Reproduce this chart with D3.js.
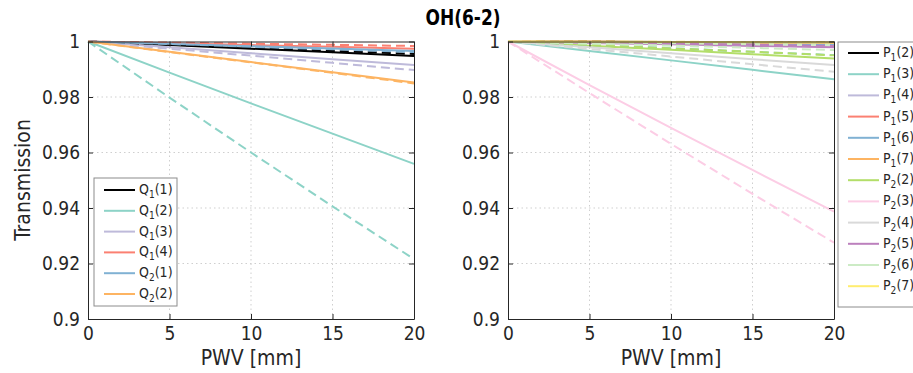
<!DOCTYPE html>
<html>
<head>
<meta charset="utf-8">
<script src="https://cdn.jsdelivr.net/npm/d3@7"></script>
<style>
  body { margin: 0; background: #fff; }
  text { font-family: "DejaVu Sans Condensed", "DejaVu Sans", sans-serif; font-stretch: condensed; fill: #262626; }
</style>
</head>
<body>
<div id="vis"></div>
<script>
// PWV sample points [mm]
const pwv = [0, 5, 10, 15, 20];
const xTicks = [0, 5, 10, 15, 20];
const yTicks = [0.9, 0.92, 0.94, 0.96, 0.98, 1];

// left panel: Q branch lines
const qNames = ["Q1(1)", "Q1(2)", "Q1(3)", "Q1(4)", "Q2(1)", "Q2(2)"];
const qSolid = [
  [1, 0.9987, 0.9974, 0.9961, 0.9948],
  [1, 0.9888, 0.9777, 0.9668, 0.9559],
  [1, 0.9979, 0.9958, 0.9936, 0.9915],
  [1, 0.9994, 0.9987, 0.9981, 0.9974],
  [1, 0.9992, 0.9983, 0.9975, 0.9966],
  [1, 0.9963, 0.9926, 0.9889, 0.9852]
];
const qDashed = [
  [1, 0.9989, 0.9978, 0.9966, 0.9955],
  [1, 0.9798, 0.9600, 0.9406, 0.9216],
  [1, 0.9974, 0.9949, 0.9923, 0.9897],
  [1, 0.9996, 0.9992, 0.9988, 0.9984],
  [1, 0.9991, 0.9981, 0.9972, 0.9962],
  [1, 0.9962, 0.9925, 0.9887, 0.9849]
];

// right panel: P branch lines
const pNames = ["P1(2)", "P1(3)", "P1(4)", "P1(5)", "P1(6)", "P1(7)",
                "P2(2)", "P2(3)", "P2(4)", "P2(5)", "P2(6)", "P2(7)"];
const pSolid = [
  [1, 0.9999, 0.9998, 0.9996, 0.9995],
  [1, 0.9966, 0.9932, 0.9898, 0.9864],
  [1, 0.9997, 0.9995, 0.9992, 0.9990],
  [1, 0.9999, 0.9997, 0.9996, 0.9995],
  [1, 0.9998, 0.9996, 0.9995, 0.9993],
  [1, 0.9999, 0.9998, 0.9997, 0.9996],
  [1, 0.9985, 0.9970, 0.9954, 0.9939],
  [1, 0.9843, 0.9689, 0.9537, 0.9387],
  [1, 0.9979, 0.9958, 0.9936, 0.9915],
  [1, 0.9995, 0.9990, 0.9984, 0.9979],
  [1, 0.9997, 0.9994, 0.9990, 0.9987],
  [1, 0.9999, 0.9998, 0.9997, 0.9996]
];
const pDashed = [
  [1, 0.9999, 0.9998, 0.9997, 0.9996],
  [1, 0.9988, 0.9976, 0.9963, 0.9951],
  [1, 0.9996, 0.9993, 0.9989, 0.9985],
  [1, 0.9998, 0.9997, 0.9995, 0.9993],
  [1, 0.9998, 0.9995, 0.9993, 0.9990],
  [1, 0.9999, 0.9998, 0.9996, 0.9995],
  [1, 0.9988, 0.9975, 0.9963, 0.9950],
  [1, 0.9814, 0.9631, 0.9451, 0.9275],
  [1, 0.9973, 0.9946, 0.9918, 0.9891],
  [1, 0.9996, 0.9992, 0.9988, 0.9984],
  [1, 0.9992, 0.9985, 0.9977, 0.9969],
  [1, 0.9999, 0.9999, 0.9998, 0.9997]
];

const colors = ["#000000", "#8dd3c7", "#bebada", "#fb8072", "#80b1d3", "#fdb462",
                "#b3de69", "#fccde5", "#d9d9d9", "#bc80bd", "#ccebc5", "#ffed6f"];

const W = 913, H = 373;
const svg = d3.select("#vis").append("svg")
  .attr("width", W).attr("height", H)
  .attr("viewBox", `0 0 ${W} ${H}`);

svg.append("text")
  .attr("transform", "translate(463,25) scale(0.86,1)")
  .attr("text-anchor", "middle")
  .style("font-size", "22px").style("font-weight", "bold")
  .style("fill", "#000")
  .text("OH(6-2)");

function legendLabel(sel, name, size) {
  // "Q1(2)" -> Q + subscript 1 + (2)
  sel.append("tspan").text(name[0]);
  sel.append("tspan").attr("dy", 4).style("font-size", (size * 0.72) + "px").text(name[1]);
  sel.append("tspan").attr("dy", -4).text(name.slice(2));
}

function panel(x0, x1, solid, dashed, names, showYLabel, legendPos) {
  const x = d3.scaleLinear().domain([0, 20]).range([x0, x1]);
  const y = d3.scaleLinear().domain([0.9, 1]).range([319, 41.5]);
  const g = svg.append("g");

  // dotted grid
  g.append("g").selectAll("line").data(xTicks.slice(1, -1)).join("line")
    .attr("x1", d => x(d)).attr("x2", d => x(d))
    .attr("y1", y(0.9)).attr("y2", y(1))
    .attr("stroke", "#cfcfcf").attr("stroke-dasharray", "1.5,3");
  g.append("g").selectAll("line").data(yTicks.slice(1, -1)).join("line")
    .attr("x1", x(0)).attr("x2", x(20))
    .attr("y1", d => y(d)).attr("y2", d => y(d))
    .attr("stroke", "#cfcfcf").attr("stroke-dasharray", "1.5,3");

  const line = d3.line().x((d, i) => x(pwv[i])).y(d => y(d));

  g.append("g").selectAll("path").data(solid).join("path")
    .attr("d", line).attr("fill", "none")
    .attr("stroke", (d, i) => colors[i]).attr("stroke-width", 2);
  g.append("g").selectAll("path").data(dashed).join("path")
    .attr("d", line).attr("fill", "none")
    .attr("stroke", (d, i) => colors[i]).attr("stroke-width", 2)
    .attr("stroke-dasharray", "9,5");

  // axes (ticks inside, box on all sides)
  const tk = 5;
  const ax = g.append("g");
  ax.append("g").attr("transform", `translate(0,${y(0.9)})`)
    .call(d3.axisBottom(x).tickValues(xTicks).tickSizeInner(-tk).tickSizeOuter(0).tickPadding(8));
  ax.append("g").attr("transform", `translate(0,${y(1)})`)
    .call(d3.axisTop(x).tickValues(xTicks).tickSizeInner(-tk).tickSizeOuter(0).tickFormat(""));
  ax.append("g").attr("transform", `translate(${x(0)},0)`)
    .call(d3.axisLeft(y).tickValues(yTicks).tickSizeInner(-tk).tickSizeOuter(0).tickPadding(8)
      .tickFormat(d => d === 1 ? "1" : d3.format(".2~f")(d)));
  ax.append("g").attr("transform", `translate(${x(20)},0)`)
    .call(d3.axisRight(y).tickValues(yTicks).tickSizeInner(-tk).tickSizeOuter(0).tickFormat(""));
  ax.selectAll(".domain").attr("stroke", "#262626");
  ax.selectAll(".tick line").attr("stroke", "#262626");
  ax.selectAll("text").attr("fill", "#262626").style("font-size", "19px");

  g.append("text")
    .attr("x", (x0 + x1) / 2).attr("y", 365)
    .attr("text-anchor", "middle").style("font-size", "21px")
    .text("PWV [mm]");
  if (showYLabel) {
    g.append("text")
      .attr("transform", `translate(30,180) rotate(-90)`)
      .attr("text-anchor", "middle").style("font-size", "21px")
      .text("Transmission");
  }

  // legend
  const lg = g.append("g").attr("transform", `translate(${legendPos.x},${legendPos.y})`);
  lg.append("rect").attr("width", legendPos.w).attr("height", legendPos.h)
    .attr("fill", "#fff").attr("stroke", "#8c8c8c");
  const rows = lg.selectAll("g").data(names).join("g")
    .attr("transform", (d, i) => `translate(0,${legendPos.top + i * legendPos.step})`);
  rows.append("line").attr("x1", 10).attr("x2", 41)
    .attr("stroke", (d, i) => colors[i]).attr("stroke-width", 2);
  rows.append("text").attr("x", 45).attr("y", 4).style("font-size", "14px")
    .each(function(d) { legendLabel(d3.select(this), d, 14); });
}

panel(88, 414, qSolid, qDashed, qNames, true, { x: 94, y: 178, w: 83, h: 128, top: 12, step: 20.8 });
panel(508, 834, pSolid, pDashed, pNames, false, { x: 838, y: 42, w: 80, h: 265, top: 11, step: 21.2 });
</script>
</body>
</html>
